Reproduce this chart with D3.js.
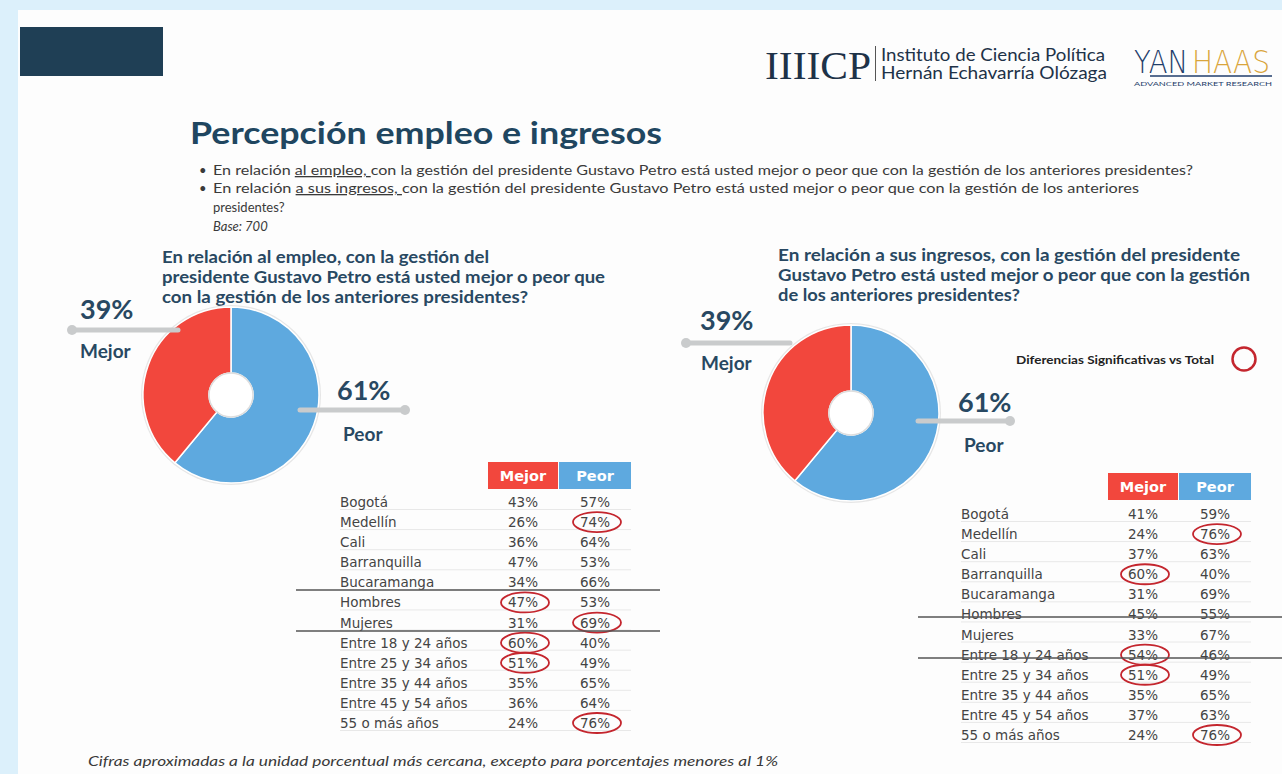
<!DOCTYPE html>
<html>
<head>
<meta charset="utf-8">
<script src="https://cdn.jsdelivr.net/npm/d3@7"></script>
<style>
  html, body { margin: 0; padding: 0; background: #dcf0fb; }
  svg { display: block; font-family: "Lato", "Open Sans", sans-serif; }
</style>
</head>
<body>
<svg id="chart" width="1282" height="774"></svg>
<script>
// data
const categories = ["Bogotá", "Medellín", "Cali", "Barranquilla", "Bucaramanga", "Hombres", "Mujeres",
  "Entre 18 y 24 años", "Entre 25 y 34 años", "Entre 35 y 44 años", "Entre 45 y 54 años", "55 o más años"];
const mejorEmpleo = [43, 26, 36, 47, 34, 47, 31, 60, 51, 35, 36, 24];
const peorEmpleo = [57, 74, 64, 53, 66, 53, 69, 40, 49, 65, 64, 76];
const mejorIngresos = [41, 24, 37, 60, 31, 45, 33, 54, 51, 35, 37, 24];
const peorIngresos = [59, 76, 63, 40, 69, 55, 67, 46, 49, 65, 63, 76];
// significant differences (circled): [rowIndex, column]
const circEmpleo = [[1, "peor"], [5, "mejor"], [6, "peor"], [7, "mejor"], [8, "mejor"], [11, "peor"]];
const circIngresos = [[1, "peor"], [3, "mejor"], [7, "mejor"], [8, "mejor"], [11, "peor"]];
const totalEmpleo = { mejor: 39, peor: 61 };
const totalIngresos = { mejor: 39, peor: 61 };

const RED = "#f2473d", BLUE = "#5ea9df", NAVY = "#284862", TXT = "#3a3a3a";

const svg = d3.select("#chart");

// slide background
svg.append("rect").attr("x", 18).attr("y", 10).attr("width", 1264).attr("height", 764).attr("fill", "#fdfdfd");
svg.append("rect").attr("x", 20).attr("y", 27).attr("width", 143).attr("height", 49).attr("fill", "#1f3f55");

// logos (as text)
const logo = svg.append("g");
logo.append("text").attr("x", 765).attr("y", 79).attr("font-family", "Liberation Serif, serif")
  .attr("font-size", 40).attr("fill", "#1e3248").attr("textLength", 106).attr("lengthAdjust", "spacingAndGlyphs").text("IIIICP");
logo.append("line").attr("x1", 875.5).attr("x2", 875.5).attr("y1", 46).attr("y2", 81).attr("stroke", "#555").attr("stroke-width", 1);
logo.append("text").attr("x", 881).attr("y", 61).attr("font-size", 16.5).attr("fill", "#1e3248")
  .attr("textLength", 224).attr("lengthAdjust", "spacingAndGlyphs").text("Instituto de Ciencia Política");
logo.append("text").attr("x", 881).attr("y", 79).attr("font-size", 16.5).attr("fill", "#1e3248")
  .attr("textLength", 226).attr("lengthAdjust", "spacingAndGlyphs").text("Hernán Echavarría Olózaga");
logo.append("text").attr("x", 1134).attr("y", 73).attr("font-size", 32).attr("fill", "#1f3d6b")
  .attr("font-family", "DejaVu Sans, sans-serif").attr("font-weight", 300)
  .attr("textLength", 54).attr("lengthAdjust", "spacingAndGlyphs").text("YAN");
logo.append("text").attr("x", 1192).attr("y", 73).attr("font-size", 32).attr("fill", "#d9a53c")
  .attr("font-family", "DejaVu Sans, sans-serif").attr("font-weight", 300)
  .attr("textLength", 78).attr("lengthAdjust", "spacingAndGlyphs").text("HAAS");
logo.append("line").attr("x1", 1150).attr("x2", 1272).attr("y1", 76).attr("y2", 76).attr("stroke", "#1f3d6b").attr("stroke-width", 1.5);
logo.append("text").attr("x", 1134).attr("y", 86).attr("font-size", 6).attr("fill", "#1f3d6b")
  .attr("textLength", 138).attr("lengthAdjust", "spacingAndGlyphs").text("ADVANCED MARKET RESEARCH");

// title and bullets
svg.append("text").attr("x", 190).attr("y", 144).attr("font-size", 31).attr("font-weight", 700).attr("fill", "#204660")
  .attr("textLength", 472).attr("lengthAdjust", "spacingAndGlyphs").text("Percepción empleo e ingresos");

const bullets = svg.append("g").attr("font-size", 13).attr("fill", TXT);
[175, 193].forEach(y => {
  bullets.append("text").attr("x", 199).attr("y", y).text("•");
});
const b1 = bullets.append("text").attr("x", 213).attr("y", 175).attr("textLength", 980).attr("lengthAdjust", "spacingAndGlyphs");
b1.append("tspan").text("En relación ");
b1.append("tspan").attr("text-decoration", "underline").text("al empleo, ");
b1.append("tspan").text(" con la gestión del presidente Gustavo Petro está usted mejor o peor que con la gestión de los anteriores presidentes?");
const b2 = bullets.append("text").attr("x", 213).attr("y", 193).attr("textLength", 926).attr("lengthAdjust", "spacingAndGlyphs");
b2.append("tspan").text("En relación ");
b2.append("tspan").attr("text-decoration", "underline").text("a sus ingresos, ");
b2.append("tspan").text(" con la gestión del presidente Gustavo Petro está usted mejor o peor que con la gestión de los anteriores");
bullets.append("text").attr("x", 213).attr("y", 212).text("presidentes?");
bullets.append("text").attr("x", 213).attr("y", 231).attr("font-style", "italic").text("Base: 700");

// footer
svg.append("text").attr("x", 88).attr("y", 766).attr("font-size", 13).attr("font-style", "italic").attr("fill", TXT)
  .attr("textLength", 690).attr("lengthAdjust", "spacingAndGlyphs")
  .text("Cifras aproximadas a la unidad porcentual más cercana, excepto para porcentajes menores al 1%");

function drawPanel(cfg) {
  const g = svg.append("g");

  // question
  const q = g.append("g").attr("font-size", 17).attr("font-weight", 700).attr("fill", NAVY);
  cfg.question.forEach((line, i) => {
    q.append("text").attr("x", cfg.qx).attr("y", cfg.qy + i * 20)
      .attr("textLength", line[1]).attr("lengthAdjust", "spacingAndGlyphs").text(line[0]);
  });

  // donut
  const pie = d3.pie().sort(null).value(d => d.v);
  const arc = d3.arc().innerRadius(22).outerRadius(88);
  const slices = pie([{ k: "peor", v: cfg.total.peor }, { k: "mejor", v: cfg.total.mejor }]);
  const donut = g.append("g").attr("transform", `translate(${cfg.cx},${cfg.cy})`);
  donut.append("circle").attr("r", 90).attr("fill", "#e6e6e6");
  donut.selectAll("path").data(slices).join("path")
    .attr("d", arc)
    .attr("fill", d => d.data.k === "mejor" ? RED : BLUE)
    .attr("stroke", "#fff").attr("stroke-width", 1.5);
  donut.append("circle").attr("r", 22).attr("fill", "#fff").attr("stroke", "#ddd").attr("stroke-width", 1.5);

  // callouts
  const lab = g.append("g");
  const callout = (c) => {
    lab.append("line").attr("x1", c.x1).attr("x2", c.x2).attr("y1", c.ly).attr("y2", c.ly)
      .attr("stroke", "#c9cbcc").attr("stroke-width", 5).attr("stroke-linecap", "round");
    lab.append("circle").attr("cx", c.dot).attr("cy", c.ly).attr("r", 5).attr("fill", "#c9cbcc");
    lab.append("text").attr("x", c.tx).attr("y", c.py).attr("font-size", 27).attr("font-weight", 700).attr("fill", NAVY).text(c.pct + "%");
    lab.append("text").attr("x", c.nx).attr("y", c.ny).attr("font-size", 19).attr("font-weight", 700).attr("fill", NAVY).text(c.name);
  };
  callout(cfg.mejorCallout);
  callout(cfg.peorCallout);

  // table
  const t = g.append("g").attr("font-size", 13.5).attr("fill", "#444").attr("font-family", "DejaVu Sans, sans-serif");
  const y = d3.scalePoint().domain(categories).range([cfg.ty0, cfg.ty1]);
  const colX = { mejor: cfg.tcol, peor: cfg.tcol + 72 };
  t.append("rect").attr("x", colX.mejor - 35).attr("y", cfg.hy).attr("width", 70).attr("height", 27).attr("fill", RED);
  t.append("rect").attr("x", colX.peor - 36).attr("y", cfg.hy).attr("width", 72).attr("height", 27).attr("fill", BLUE);
  t.append("text").attr("x", colX.mejor).attr("y", cfg.hy + 19).attr("text-anchor", "middle").attr("fill", "#fff")
    .attr("font-size", 14.5).attr("font-weight", 700).text("Mejor");
  t.append("text").attr("x", colX.peor).attr("y", cfg.hy + 19).attr("text-anchor", "middle").attr("fill", "#fff")
    .attr("font-size", 14.5).attr("font-weight", 700).text("Peor");

  t.selectAll("line.sep").data(categories).join("line").attr("class", "sep")
    .attr("x1", cfg.tx).attr("x2", colX.peor + 36)
    .attr("y1", d => y(d) + 7.5).attr("y2", d => y(d) + 7.5)
    .attr("stroke", "#e8e8e8").attr("stroke-width", 1);
  t.selectAll("text.lab").data(categories).join("text").attr("class", "lab")
    .attr("x", cfg.tx).attr("y", d => y(d) + 5).text(d => d);
  t.selectAll("text.mej").data(cfg.mejor).join("text").attr("class", "mej")
    .attr("x", colX.mejor).attr("y", (d, i) => y(categories[i]) + 5).attr("text-anchor", "middle").text(d => d + "%");
  t.selectAll("text.peo").data(cfg.peor).join("text").attr("class", "peo")
    .attr("x", colX.peor).attr("y", (d, i) => y(categories[i]) + 5).attr("text-anchor", "middle").text(d => d + "%");

  // significance rings
  t.selectAll("ellipse").data(cfg.circ).join("ellipse")
    .attr("cx", d => colX[d[1]] + 2).attr("cy", d => y(categories[d[0]]))
    .attr("rx", 24).attr("ry", 10)
    .attr("fill", "none").attr("stroke", "#c4262e").attr("stroke-width", 1.8);

  // group dividers
  cfg.dividers.forEach(d => {
    g.append("line").attr("x1", cfg.dx1).attr("x2", cfg.dx2).attr("y1", d).attr("y2", d)
      .attr("stroke", "#555").attr("stroke-width", 1.3);
  });
}

drawPanel({
  question: [["En relación al empleo,  con la gestión del", 327],
             ["presidente Gustavo Petro está usted mejor o peor que", 443],
             ["con la gestión de los anteriores presidentes?", 366]],
  qx: 162, qy: 263,
  cx: 231, cy: 395, total: totalEmpleo,
  mejorCallout: { x1: 72, x2: 178, ly: 330, dot: 72, tx: 80, py: 319, nx: 80, ny: 358, pct: totalEmpleo.mejor, name: "Mejor" },
  peorCallout: { x1: 300, x2: 405, ly: 410, dot: 405, tx: 337, py: 400, nx: 343, ny: 441, pct: totalEmpleo.peor, name: "Peor" },
  tx: 340, tcol: 523, hy: 462, ty0: 502, ty1: 723,
  mejor: mejorEmpleo, peor: peorEmpleo, circ: circEmpleo,
  dividers: [590, 631], dx1: 296, dx2: 660
});

drawPanel({
  question: [["En relación a sus ingresos,  con la gestión del presidente", 462],
             ["Gustavo Petro está usted mejor o peor que con la gestión", 472],
             ["de los anteriores presidentes?", 242]],
  qx: 778, qy: 261,
  cx: 851, cy: 413, total: totalIngresos,
  mejorCallout: { x1: 686, x2: 790, ly: 343, dot: 686, tx: 700, py: 330, nx: 701, ny: 370, pct: totalIngresos.mejor, name: "Mejor" },
  peorCallout: { x1: 918, x2: 1010, ly: 421, dot: 1010, tx: 958, py: 412, nx: 964, ny: 452, pct: totalIngresos.peor, name: "Peor" },
  tx: 961, tcol: 1143, hy: 473, ty0: 514, ty1: 735,
  mejor: mejorIngresos, peor: peorIngresos, circ: circIngresos,
  dividers: [617, 658], dx1: 918, dx2: 1282
});

// legend
svg.append("text").attr("x", 1016).attr("y", 364).attr("font-size", 11).attr("font-weight", 700).attr("fill", "#222")
  .attr("textLength", 198).attr("lengthAdjust", "spacingAndGlyphs").text("Diferencias Significativas vs Total");
svg.append("circle").attr("cx", 1244).attr("cy", 359).attr("r", 11.5).attr("fill", "none").attr("stroke", "#c4262e").attr("stroke-width", 2.5);
</script>
</body>
</html>
